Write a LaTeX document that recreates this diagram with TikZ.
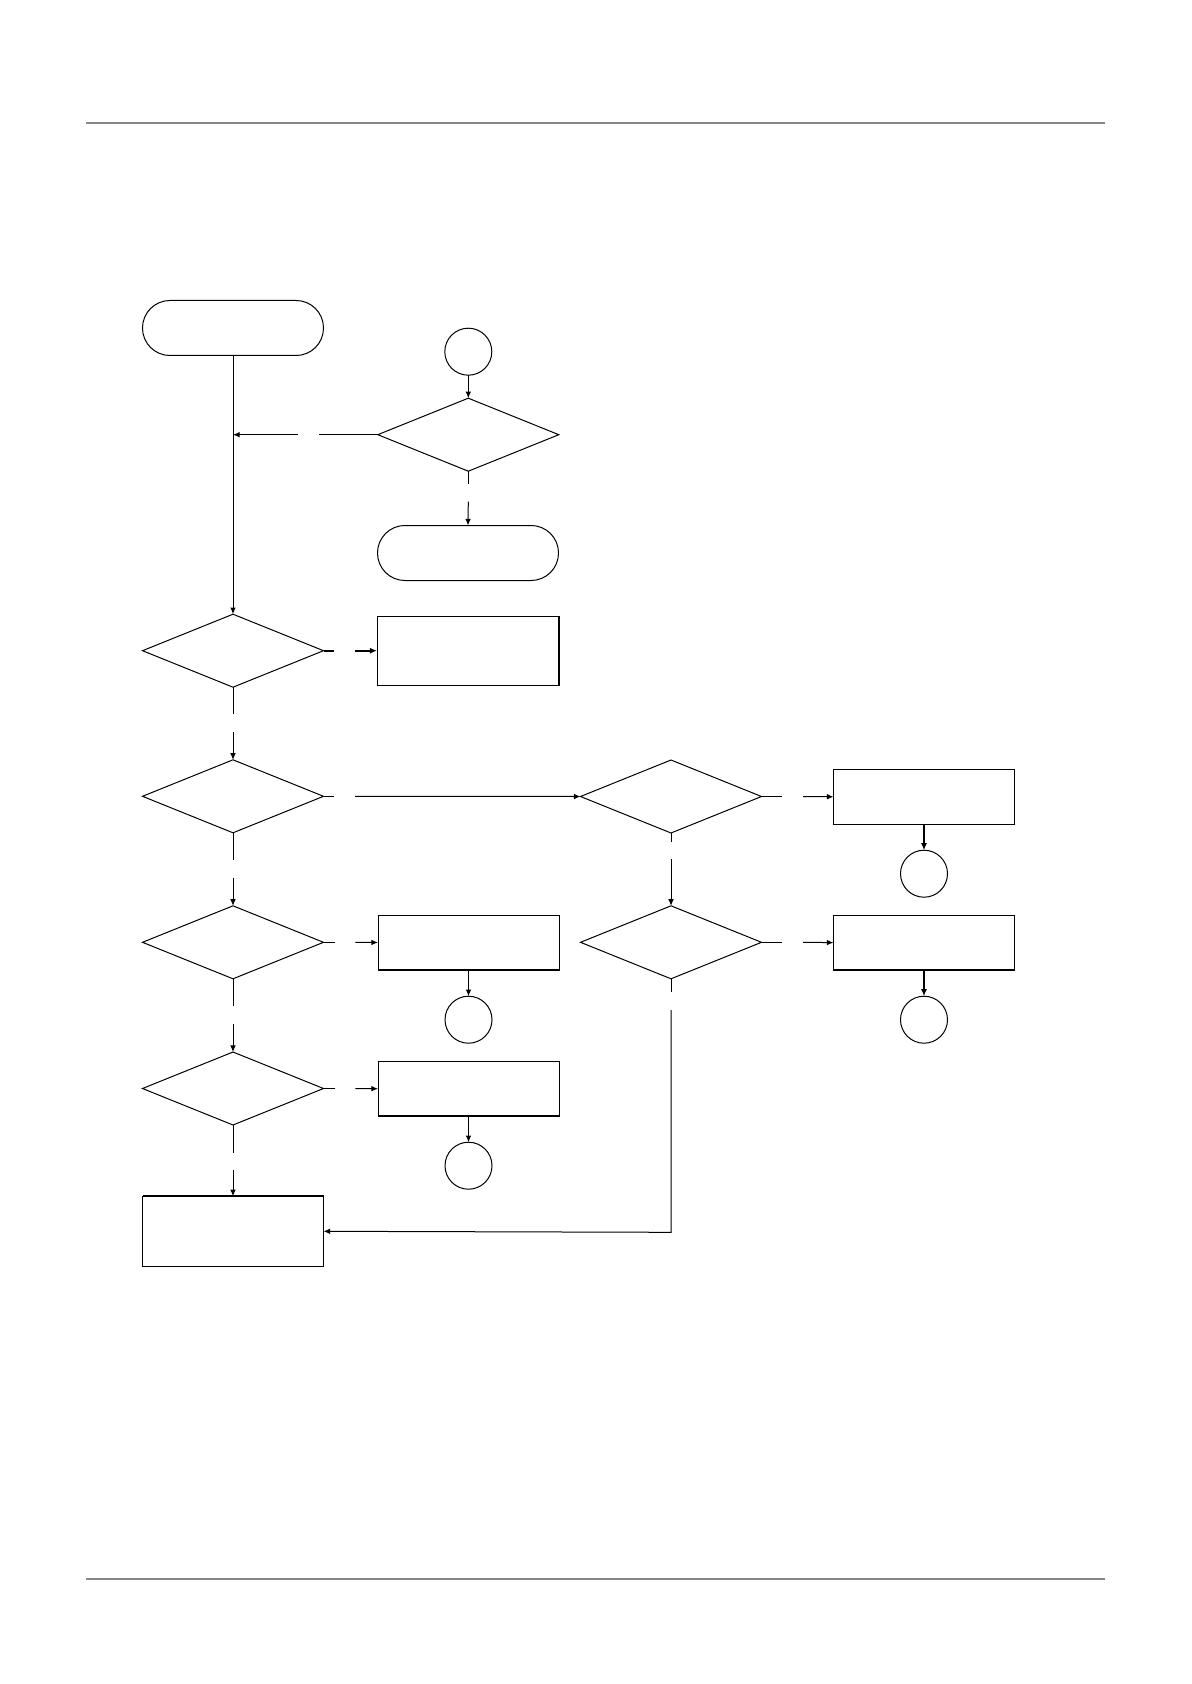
\documentclass[tikz,border=0pt]{standalone}
\usetikzlibrary{shapes.geometric,arrows.meta}
\begin{document}
\begin{tikzpicture}[x=0.5pt,y=-0.5pt,
  every node/.style={inner sep=0pt,outer sep=0pt},
  base/.style={draw=black,line width=0.5pt,fill=white},
  term/.style={base,rectangle,minimum width=90.5pt,minimum height=27.5pt,rounded corners=13.7pt},
  dec/.style={base,diamond,minimum width=90.5pt,minimum height=36.5pt},
  proc/.style={base,rectangle,minimum width=90.5pt,minimum height=27.5pt},
  conn/.style={base,circle,minimum size=23.5pt},
  ln/.style={line width=0.5pt},
  arr/.style={ln,-{Latex[length=3.3pt,width=2.8pt]}},
  tarr/.style={line width=0.9pt,-{Latex[length=3.6pt,width=3.1pt]}},
  tedge/.style={line width=1.1pt},
  rule/.style={draw=black!47,line width=1pt}]
\useasboundingbox (0,0) rectangle (1191,1684);
% header / footer rules
\coordinate (r1a) at (86,123.5); \coordinate (r1b) at (1105,123.5);
\coordinate (r2a) at (86,1579); \coordinate (r2b) at (1105,1579);
\draw[rule] (r1a) -- (r1b);
\draw[rule] (r2a) -- (r2b);
% nodes
\node[term] (start) at (233,328) {};
\node[conn] (c0) at (468.3,351.7) {};
\node[dec] (d1) at (468.3,434.7) {};
\node[term] (stop) at (468,553) {};
\node[dec] (d2) at (233,650.7) {};
\node[proc,minimum width=91pt,minimum height=34.5pt] (boxA) at (468,650.7) {};
\node[dec] (d3) at (233,796.3) {};
\node[dec] (d4) at (671,796.5) {};
\node[proc] (boxB) at (924,796.8) {};
\node[conn] (cB) at (924,873.7) {};
\node[dec] (dL4) at (233,942.3) {};
\node[proc] (box4) at (468.5,942.5) {};
\node[conn] (c4) at (468.5,1019.7) {};
\node[dec] (d5) at (671,942.3) {};
\node[proc] (boxC) at (924,942.6) {};
\node[conn] (cC) at (924,1019.7) {};
\node[dec] (d6) at (233,1088.5) {};
\node[proc] (boxD) at (468.5,1088.7) {};
\node[conn] (cD) at (468.5,1165.7) {};
\node[proc,minimum height=35pt] (final) at (233,1231.3) {};
% heavier edges
\draw[tedge] (boxA.north east) -- (boxA.south east);
\draw[tedge] (box4.south west) -- (box4.south east);
\draw[tedge] (boxC.south west) -- (boxC.south east);
\draw[tedge] (boxD.south west) -- (boxD.south east);
\draw[tedge] (final.north west) -- (final.north east);
% gap coordinates
\coordinate (j1) at (233,434.7);
\coordinate (g1a) at (319,434.7); \coordinate (g1b) at (297.7,434.7);
\coordinate (g2a) at (468.3,484.3); \coordinate (g2b) at (468.3,501.7);
\coordinate (g3a) at (334,650.7); \coordinate (g3b) at (355,650.7);
\coordinate (g4a) at (233,714.3); \coordinate (g4b) at (233,732.3);
\coordinate (g5a) at (334,796.3); \coordinate (g5b) at (355,796.3);
\coordinate (g6a) at (781.7,796.5); \coordinate (g6b) at (803,796.5);
\coordinate (g7a) at (233,859.5); \coordinate (g7b) at (233,877.5);
\coordinate (g8a) at (671,841.7); \coordinate (g8b) at (671,859);
\coordinate (g9a) at (334.5,942.3); \coordinate (g9b) at (355.3,942.3);
\coordinate (g10a) at (781.7,942.3); \coordinate (g10b) at (803,942.3);
\coordinate (g11a) at (671,992.3); \coordinate (g11b) at (671,1010);
\coordinate (g14a) at (233,1005.7); \coordinate (g14b) at (233,1023.7);
\coordinate (g12a) at (334.5,1088.5); \coordinate (g12b) at (355.3,1088.5);
\coordinate (g13a) at (233,1152.7); \coordinate (g13b) at (233,1170);
\coordinate (k1) at (671,1232.3);
% connectors
\draw[arr] (start.south) -- (d2.north);
\draw[arr] (c0.south) -- (d1.north);
\draw[ln] (d1.west) -- (g1a);
\draw[arr] (g1b) -- (j1);
\draw[ln] (d1.south) -- (g2a);
\draw[arr] (g2b) -- (stop.north);
\draw[line width=0.9pt] (d2.east) -- (g3a);
\draw[tarr] (g3b) -- (boxA.west);
\draw[ln] (d2.south) -- (g4a);
\draw[arr] (g4b) -- (d3.north);
\draw[ln] (d3.east) -- (g5a);
\draw[arr] (g5b) -- (d4.west);
\draw[ln] (d4.east) -- (g6a);
\draw[arr] (g6b) -- (boxB.west);
\draw[tarr] (boxB.south) -- (cB.north);
\draw[ln] (d3.south) -- (g7a);
\draw[arr] (g7b) -- (dL4.north);
\draw[ln] (d4.south) -- (g8a);
\draw[arr] (g8b) -- (d5.north);
\draw[ln] (dL4.east) -- (g9a);
\draw[arr] (g9b) -- (box4.west);
\draw[arr] (box4.south) -- (c4.north);
\draw[ln] (d5.east) -- (g10a);
\draw[arr] (g10b) -- (boxC.west);
\draw[tarr] (boxC.south) -- (cC.north);
\draw[ln] (d5.south) -- (g11a);
\draw[arr] (g11b) -- (k1) -- (final.east);
\draw[ln] (dL4.south) -- (g14a);
\draw[arr] (g14b) -- (d6.north);
\draw[ln] (d6.east) -- (g12a);
\draw[arr] (g12b) -- (boxD.west);
\draw[arr] (boxD.south) -- (cD.north);
\draw[ln] (d6.south) -- (g13a);
\draw[arr] (g13b) -- (final.north);
\end{tikzpicture}
\end{document}
